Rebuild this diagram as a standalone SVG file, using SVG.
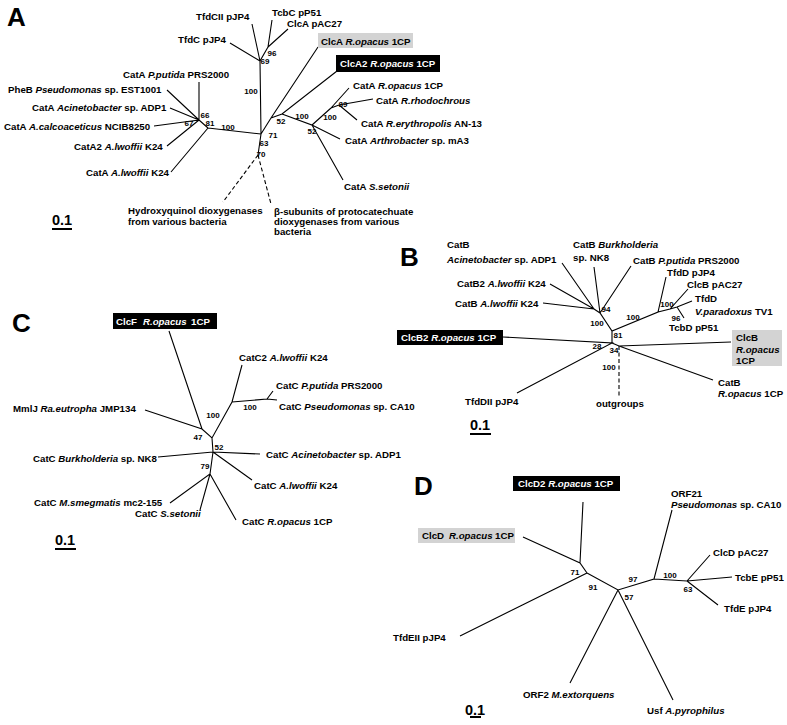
<svg xmlns="http://www.w3.org/2000/svg" width="787" height="725" viewBox="0 0 787 725">
<style>
text{font-family:"Liberation Sans",Arial,sans-serif;font-weight:bold;fill:#000}
.t{font-size:9.7px}
.i{font-style:italic}
.w{fill:#fff}
.n{font-size:8px;text-anchor:middle}
.L{font-size:26px}
.s{font-size:14.5px}
.e{stroke:#000;stroke-width:1.1;fill:none}
.d{stroke:#000;stroke-width:1.1;fill:none;stroke-dasharray:4,2.5}
.sb{stroke:#000;stroke-width:2}
.gb{fill:#d3d3d3}
.bb{fill:#000}
</style>
<rect width="787" height="725" fill="#fff"/>

<!-- Panel letters and scale bars -->
<g id="panel-labels">
<text class="L" x="7" y="26">A</text>
<text class="L" x="400" y="266">B</text>
<text class="L" x="12" y="332">C</text>
<text class="L" x="414" y="495">D</text>
</g>
<g id="scales">
<text class="s" x="52" y="225">0.1</text><line class="sb" x1="52" y1="229" x2="72" y2="229"/>
<text class="s" x="470" y="430">0.1</text><line class="sb" x1="470" y1="434" x2="491" y2="434"/>
<text class="s" x="55" y="545">0.1</text><line class="sb" x1="55" y1="549" x2="76" y2="549"/>
<text class="s" x="465" y="715">0.1</text><line class="sb" x1="470" y1="717" x2="481" y2="717"/>
</g>

<!-- ================= PANEL A ================= -->
<g id="A-edges">
<path class="e" d="M252,24L260,61M272,20L268,47M288,29L268,47M230,43L260,61M268,47L260,61L261,134M208,128L261,134M199,120L208,128M199,82L199,120M167,90L199,120M170,108L199,120M154,126L199,120M167,146L199,120M171,172L208,128M261,134L258,155M261,134L271,118L318,47M271,118L282,114L337,71M282,114L312,125L331,108M312,125L340,139M312,125L343,180M331,108L349,88M331,108L339,105L373,99M339,105L357,120"/>
<path class="d" d="M258,155L223,202M258,155L271,204"/>
</g>
<g id="A-bootstrap">
<text class="n" x="272" y="56">96</text>
<text class="n" x="265" y="64">69</text>
<text class="n" x="251" y="94">100</text>
<text class="n" x="205" y="118">66</text>
<text class="n" x="189" y="126">67</text>
<text class="n" x="210" y="126">81</text>
<text class="n" x="228" y="130">100</text>
<text class="n" x="264" y="146">63</text>
<text class="n" x="273" y="138">71</text>
<text class="n" x="281" y="124">52</text>
<text class="n" x="261" y="157">70</text>
<text class="n" x="302" y="119">100</text>
<text class="n" x="312" y="134">52</text>
<text class="n" x="343" y="107">89</text>
<text class="n" x="330" y="120">100</text>
</g>
<g id="A-TfdCII"><text class="t" x="196" y="20">TfdCII pJP4</text></g>
<g id="A-TcbC"><text class="t" x="272" y="16">TcbC pP51</text></g>
<g id="A-ClcA-pAC27"><text class="t" x="287" y="27">ClcA pAC27</text></g>
<g id="A-TfdC"><text class="t" x="178" y="43">TfdC pJP4</text></g>
<g id="A-ClcA-1CP"><rect class="gb" x="318" y="33" width="95" height="15"/><text class="t" x="321" y="44.5">ClcA <tspan class="i">R.opacus</tspan> 1CP</text></g>
<g id="A-ClcA2-1CP"><rect class="bb" x="336" y="55" width="104" height="17"/><text class="t w" x="340" y="67">ClcA2 <tspan class="i">R.opacus</tspan> 1CP</text></g>
<g id="A-CatA-Pputida"><text class="t" x="123" y="78">CatA <tspan class="i">P.putida</tspan> PRS2000</text></g>
<g id="A-PheB"><text class="t" x="8" y="93">PheB <tspan class="i">Pseudomonas</tspan> sp. EST1001</text></g>
<g id="A-CatA-Acin"><text class="t" x="32" y="111">CatA <tspan class="i">Acinetobacter</tspan> sp. ADP1</text></g>
<g id="A-CatA-Acalco"><text class="t" x="4" y="130">CatA <tspan class="i">A.calcoaceticus</tspan> NCIB8250</text></g>
<g id="A-CatA2-Alw"><text class="t" x="74" y="150">CatA2 <tspan class="i">A.lwoffii</tspan> K24</text></g>
<g id="A-CatA-Alw"><text class="t" x="86" y="176">CatA <tspan class="i">A.lwoffii</tspan> K24</text></g>
<g id="A-hydroxyquinol"><text class="t" x="128" y="214">Hydroxyquinol dioxygenases</text><text class="t" x="128" y="225">from various bacteria</text></g>
<g id="A-beta"><text class="t" x="274" y="215">β-subunits of protocatechuate</text><text class="t" x="274" y="225">dioxygenases from various</text><text class="t" x="274" y="235">bacteria</text></g>
<g id="A-CatA-Ropacus"><text class="t" x="353" y="89">CatA <tspan class="i">R.opacus</tspan> 1CP</text></g>
<g id="A-CatA-Rrhodo"><text class="t" x="376" y="104">CatA <tspan class="i">R.rhodochrous</tspan></text></g>
<g id="A-CatA-Reryth"><text class="t" x="361" y="127">CatA <tspan class="i">R.erythropolis</tspan> AN-13</text></g>
<g id="A-CatA-Arthro"><text class="t" x="345" y="144">CatA <tspan class="i">Arthrobacter</tspan> sp. mA3</text></g>
<g id="A-CatA-Ssetonii"><text class="t" x="344" y="190">CatA <tspan class="i">S.setonii</tspan></text></g>

<!-- ================= PANEL B ================= -->
<g id="B-edges">
<path class="e" d="M562,263L594,309M550,284L594,309M543,303L594,309M594,267L600,313M631,266L600,313M594,309L600,313L612,331L658,312L666,277M658,312L670,309L688,289M670,309L677,307L692,301M677,307L684,318M612,331L612,343M503,337L612,343L517,393M612,343L619,346L731,342M619,346L713,380"/>
<path class="d" d="M619,346L619,397"/>
</g>
<g id="B-bootstrap">
<text class="n" x="606" y="312">94</text>
<text class="n" x="597" y="326">100</text>
<text class="n" x="633" y="320">100</text>
<text class="n" x="667" y="307">100</text>
<text class="n" x="676" y="321">96</text>
<text class="n" x="618" y="338">81</text>
<text class="n" x="597" y="349">28</text>
<text class="n" x="614" y="353">34</text>
<text class="n" x="609" y="370">100</text>
</g>
<g id="B-CatB-Acin"><text class="t" x="447" y="248">CatB</text><text class="t" x="447" y="263"><tspan class="i">Acinetobacter</tspan> sp. ADP1</text></g>
<g id="B-CatB-Burk"><text class="t" x="573" y="248">CatB <tspan class="i">Burkholderia</tspan></text><text class="t" x="573" y="261">sp. NK8</text></g>
<g id="B-CatB-Pputida"><text class="t" x="633" y="264">CatB <tspan class="i">P.putida</tspan> PRS2000</text></g>
<g id="B-TfdD-pJP4"><text class="t" x="667" y="276">TfdD pJP4</text></g>
<g id="B-ClcB-pAC27"><text class="t" x="687" y="288">ClcB pAC27</text></g>
<g id="B-TfdD-Vp"><text class="t" x="695" y="302">TfdD</text><text class="t" x="695" y="315"><tspan class="i">V.paradoxus</tspan> TV1</text></g>
<g id="B-TcbD"><text class="t" x="669" y="331">TcbD pP51</text></g>
<g id="B-ClcB-1CP"><rect class="gb" x="732" y="330" width="50" height="36"/><text class="t" x="736" y="341">ClcB</text><text class="t i" x="736" y="353">R.opacus</text><text class="t" x="736" y="364">1CP</text></g>
<g id="B-CatB-Ropacus"><text class="t" x="718" y="386">CatB</text><text class="t" x="718" y="397"><tspan class="i">R.opacus</tspan> 1CP</text></g>
<g id="B-outgroups"><text class="t" x="596" y="407">outgroups</text></g>
<g id="B-TfdDII"><text class="t" x="465" y="405">TfdDII pJP4</text></g>
<g id="B-ClcB2-1CP"><rect class="bb" x="397" y="330" width="106" height="15"/><text class="t w" x="401" y="341">ClcB2 <tspan class="i">R.opacus</tspan> 1CP</text></g>
<g id="B-CatB2-Alw"><text class="t" x="457" y="287">CatB2 <tspan class="i">A.lwoffii</tspan> K24</text></g>
<g id="B-CatB-Alw"><text class="t" x="455" y="307">CatB <tspan class="i">A.lwoffii</tspan> K24</text></g>

<!-- ================= PANEL C ================= -->
<g id="C-edges">
<path class="e" d="M169,331L202,429M145,410L202,429L212,438L232,402L242,365M232,402L267,399L273,391M267,399L277,400M212,438L213,452M158,457L213,452L260,454M213,452L252,480M213,452L210,474L170,503M210,474L200,510M210,474L236,520"/>
</g>
<g id="C-bootstrap">
<text class="n" x="198" y="440">47</text>
<text class="n" x="213" y="418">100</text>
<text class="n" x="219" y="450">52</text>
<text class="n" x="205" y="469">79</text>
<text class="n" x="250" y="410">100</text>
</g>
<g id="C-ClcF-1CP"><rect class="bb" x="113" y="313" width="104" height="16"/><text class="t w" y="325"><tspan x="116">ClcF</tspan><tspan x="143" class="i">R.opacus</tspan><tspan x="191">1CP</tspan></text></g>
<g id="C-MmlJ"><text class="t" x="13" y="412">MmlJ <tspan class="i">Ra.eutropha</tspan> JMP134</text></g>
<g id="C-CatC2-Alw"><text class="t" x="239" y="361">CatC2 <tspan class="i">A.lwoffii</tspan> K24</text></g>
<g id="C-CatC-Pputida"><text class="t" x="276" y="389">CatC <tspan class="i">P.putida</tspan> PRS2000</text></g>
<g id="C-CatC-Pseud"><text class="t" x="279" y="410">CatC <tspan class="i">Pseudomonas</tspan> sp. CA10</text></g>
<g id="C-CatC-Acin"><text class="t" x="266" y="458">CatC <tspan class="i">Acinetobacter</tspan> sp. ADP1</text></g>
<g id="C-CatC-Alw"><text class="t" x="254" y="489">CatC <tspan class="i">A.lwoffii</tspan> K24</text></g>
<g id="C-CatC-Burk"><text class="t" x="33" y="462">CatC <tspan class="i">Burkholderia</tspan> sp. NK8</text></g>
<g id="C-CatC-Msmeg"><text class="t" x="34" y="506">CatC <tspan class="i">M.smegmatis</tspan> mc2-155</text></g>
<g id="C-CatC-Ssetonii"><text class="t" x="135" y="517">CatC <tspan class="i">S.setonii</tspan></text></g>
<g id="C-CatC-Ropacus"><text class="t" x="242" y="525">CatC <tspan class="i">R.opacus</tspan> 1CP</text></g>

<!-- ================= PANEL D ================= -->
<g id="D-edges">
<path class="e" d="M583,502L580,563M523,537L580,563L587,573L460,636M587,573L618,590L654,579L672,510M654,579L687,581L710,555M687,581L732,577M687,581L718,605M618,590L570,683M618,590L673,700"/>
</g>
<g id="D-bootstrap">
<text class="n" x="575" y="575">71</text>
<text class="n" x="593" y="590">91</text>
<text class="n" x="629" y="600">57</text>
<text class="n" x="633" y="582">97</text>
<text class="n" x="670" y="578">100</text>
<text class="n" x="688" y="592">63</text>
</g>
<g id="D-ClcD2-1CP"><rect class="bb" x="513" y="476" width="107" height="15"/><text class="t w" x="518" y="487">ClcD2 <tspan class="i">R.opacus</tspan> 1CP</text></g>
<g id="D-ClcD-1CP"><rect class="gb" x="418" y="528" width="97" height="15"/><text class="t" y="539"><tspan x="422">ClcD</tspan><tspan x="449" class="i">R.opacus</tspan><tspan x="495">1CP</tspan></text></g>
<g id="D-ORF21"><text class="t" x="671" y="497">ORF21</text><text class="t" x="671" y="508"><tspan class="i">Pseudomonas</tspan> sp. CA10</text></g>
<g id="D-ClcD-pAC27"><text class="t" x="713" y="556">ClcD pAC27</text></g>
<g id="D-TcbE"><text class="t" x="735" y="581">TcbE pP51</text></g>
<g id="D-TfdE"><text class="t" x="724" y="612">TfdE pJP4</text></g>
<g id="D-TfdEII"><text class="t" x="393" y="641">TfdEII pJP4</text></g>
<g id="D-ORF2"><text class="t" x="523" y="698">ORF2 <tspan class="i">M.extorquens</tspan></text></g>
<g id="D-Usf"><text class="t" x="647" y="714">Usf <tspan class="i">A.pyrophilus</tspan></text></g>
</svg>
